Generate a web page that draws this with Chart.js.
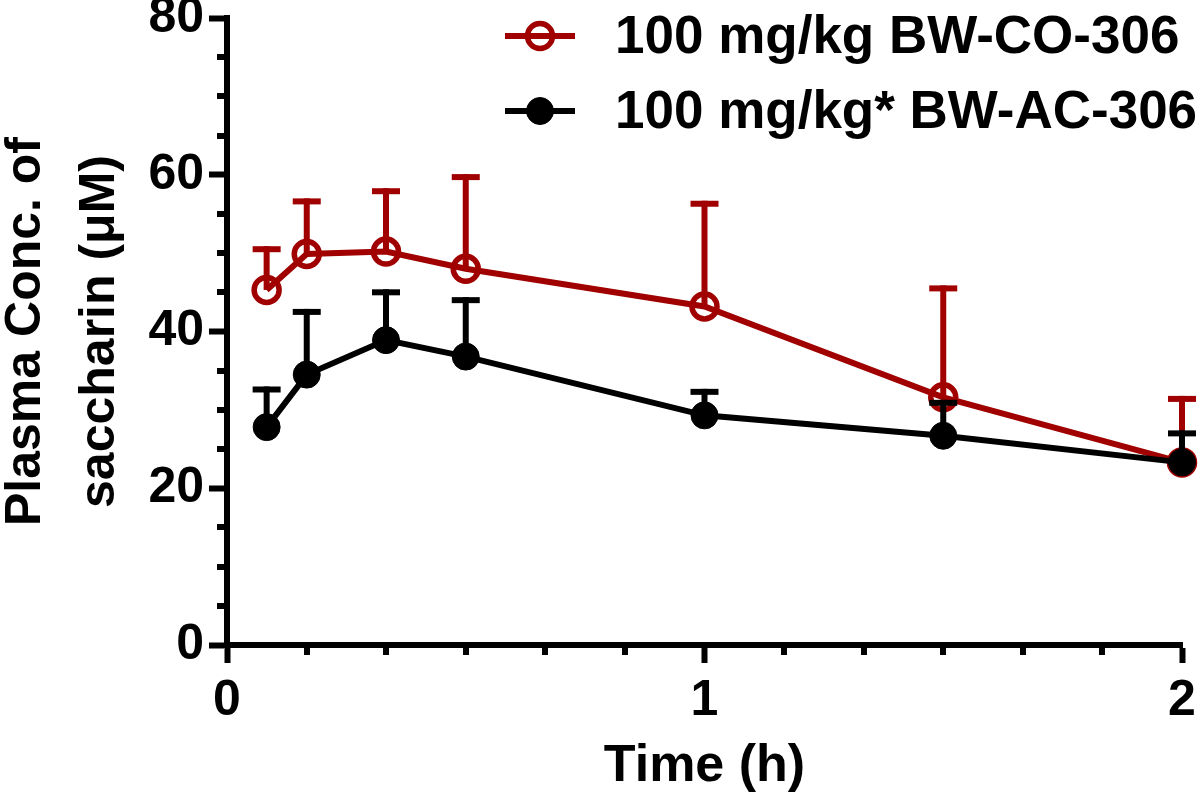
<!DOCTYPE html>
<html><head><meta charset="utf-8">
<script src="https://cdn.jsdelivr.net/npm/chart.js@4.4.1/dist/chart.umd.min.js"></script>
<style>html,body{margin:0;padding:0;background:#fff;overflow:hidden}#wrap{width:1200px;height:797px;position:relative}</style>
</head><body><div id="wrap"><canvas id="c" width="1200" height="797"></canvas></div>
<script>
// ---- data ----
const timesH = [0.083, 0.167, 0.333, 0.5, 1, 1.5, 2];
const coMean = [45.3, 49.9, 50.2, 48.0, 43.2, 31.6, 23.3];
const coSD   = [5.2, 6.7, 7.7, 11.7, 13.1, 13.9, 8.1];
const acMean = [27.8, 34.5, 38.9, 36.8, 29.3, 26.7, 23.3];
const acSD   = [4.8, 8.0, 6.1, 7.2, 3.0, 4.2, 3.7];
const seriesLabels = ['100 mg/kg BW-CO-306', '100 mg/kg* BW-AC-306'];
const xTicks = [0, 1, 2];
const yTicks = [0, 20, 40, 60, 80];
const xTitle = 'Time (h)';
const yTitle = ['Plasma Conc. of', 'saccharin (\u03BCM)'];

const RED = '#A00000';
const BLACK = '#000000';
const FAMILY = '"Liberation Sans", Arial, Helvetica, sans-serif';
const LW = 6;
Chart.defaults.font.family = FAMILY;
Chart.defaults.color = '#000';

const toPts = (xs, ys) => xs.map((x, i) => ({x: x, y: ys[i]}));

const errorBars = {
  id: 'errorBars',
  beforeDatasetDraw(chart, args) {
    const ds = chart.data.datasets[args.index];
    if (!ds.errors) return;
    const ctx = chart.ctx, xs = chart.scales.x, ys = chart.scales.y;
    ctx.save();
    ctx.strokeStyle = ds.borderColor;
    ctx.lineWidth = LW;
    ctx.lineCap = 'butt';
    ds.data.forEach((p, i) => {
      const x = xs.getPixelForValue(p.x);
      const y0 = ys.getPixelForValue(p.y);
      const y1 = ys.getPixelForValue(p.y + ds.errors[i]);
      ctx.beginPath();
      ctx.moveTo(x, y0); ctx.lineTo(x, y1 - LW / 2);
      ctx.stroke();
      ctx.beginPath();
      ctx.moveTo(x - 14, y1); ctx.lineTo(x + 14, y1);
      ctx.stroke();
    });
    ctx.restore();
  }
};

const minorTicks = {
  id: 'minorTicks',
  afterDraw(chart) {
    const ctx = chart.ctx, xs = chart.scales.x, ys = chart.scales.y, ca = chart.chartArea;
    ctx.save();
    ctx.strokeStyle = '#000';
    ctx.lineWidth = LW;
    for (let k = 1; k < 12; k++) {
      if (k % 6 === 0) continue;
      const x = Math.round(xs.getPixelForValue(k / 6));
      ctx.beginPath(); ctx.moveTo(x, ca.bottom); ctx.lineTo(x, ca.bottom + 10); ctx.stroke();
    }
    for (let v = 5; v < 80; v += 5) {
      if (v % 20 === 0) continue;
      const y = Math.round(ys.getPixelForValue(v));
      ctx.beginPath(); ctx.moveTo(ca.left, y); ctx.lineTo(ca.left - 10, y); ctx.stroke();
    }
    ctx.restore();
  }
};

const customLegend = {
  id: 'customLegend',
  afterDraw(chart) {
    const ctx = chart.ctx, ca = chart.chartArea;
    const x0 = ca.left + 278, len = 70, tx = x0 + 110;
    const rows = [ca.top + 18, ca.top + 93];
    chart.data.datasets.forEach((ds, i) => {
      const y = rows[i];
      ctx.save();
      ctx.strokeStyle = ds.borderColor; ctx.lineWidth = LW;
      ctx.beginPath(); ctx.moveTo(x0, y); ctx.lineTo(x0 + len, y); ctx.stroke();
      ctx.beginPath(); ctx.arc(x0 + len / 2, y, ds.pointRadius, 0, Math.PI * 2);
      if (ds.pointBackgroundColor !== 'rgba(0,0,0,0)') { ctx.fillStyle = ds.pointBackgroundColor; ctx.fill(); }
      ctx.lineWidth = ds.pointBorderWidth; ctx.strokeStyle = ds.pointBorderColor; ctx.stroke();
      ctx.fillStyle = '#000';
      ctx.font = 'bold 53px ' + FAMILY;
      ctx.textBaseline = 'middle'; ctx.textAlign = 'left';
      ctx.fillText(ds.label, tx, y + 2);
      ctx.restore();
    });
  }
};

new Chart(document.getElementById('c'), {
  type: 'line',
  data: {
    datasets: [
      { label: seriesLabels[0], data: toPts(timesH, coMean), errors: coSD,
        borderColor: RED, borderWidth: LW, pointRadius: 12.5, pointBorderWidth: 5.5,
        pointBackgroundColor: 'rgba(0,0,0,0)', pointBorderColor: RED, order: 1, clip: false, tension: 0 },
      { label: seriesLabels[1], data: toPts(timesH, acMean), errors: acSD,
        borderColor: BLACK, borderWidth: LW, pointRadius: 13.5, pointBorderWidth: 1,
        pointBackgroundColor: BLACK, pointBorderColor: BLACK, order: 0, clip: false, tension: 0 }
    ]
  },
  options: {
    responsive: false, animation: false, events: [],
    layout: { padding: { left: 0, right: 0, top: 15, bottom: 0 } },
    plugins: { legend: { display: false }, tooltip: { enabled: false } },
    scales: {
      x: {
        type: 'linear', min: 0, max: 2,
        afterBuildTicks: s => { s.ticks = xTicks.map(v => ({value: v})); },
        afterFit: s => { s.height = 152; },
        ticks: { font: { size: 50, weight: 'bold', lineHeight: 1.4 }, color: '#000', padding: 3, maxRotation: 0 },
        grid: { drawOnChartArea: false, tickLength: 18, tickWidth: LW, tickColor: '#000' },
        border: { width: LW, color: '#000' },
        title: { display: true, text: xTitle, font: { size: 52, weight: 'bold', lineHeight: 1.15 }, color: '#000', padding: { top: 0, bottom: 0 } }
      },
      y: {
        type: 'linear', min: 0, max: 80,
        afterBuildTicks: s => { s.ticks = yTicks.map(v => ({value: v})); },
        afterFit: s => { s.width = 227; },
        ticks: { font: { size: 50, weight: 'bold', lineHeight: 0.4 }, color: '#000', padding: 5 },
        grid: { drawOnChartArea: false, tickLength: 18, tickWidth: LW, tickColor: '#000' },
        border: { width: LW, color: '#000' },
        title: { display: true, text: yTitle, font: { size: 50, weight: 'bold', lineHeight: 1.48 }, color: '#000', padding: { top: -11, bottom: 0 } }
      }
    }
  },
  plugins: [errorBars, minorTicks, customLegend]
});
</script></body></html>
